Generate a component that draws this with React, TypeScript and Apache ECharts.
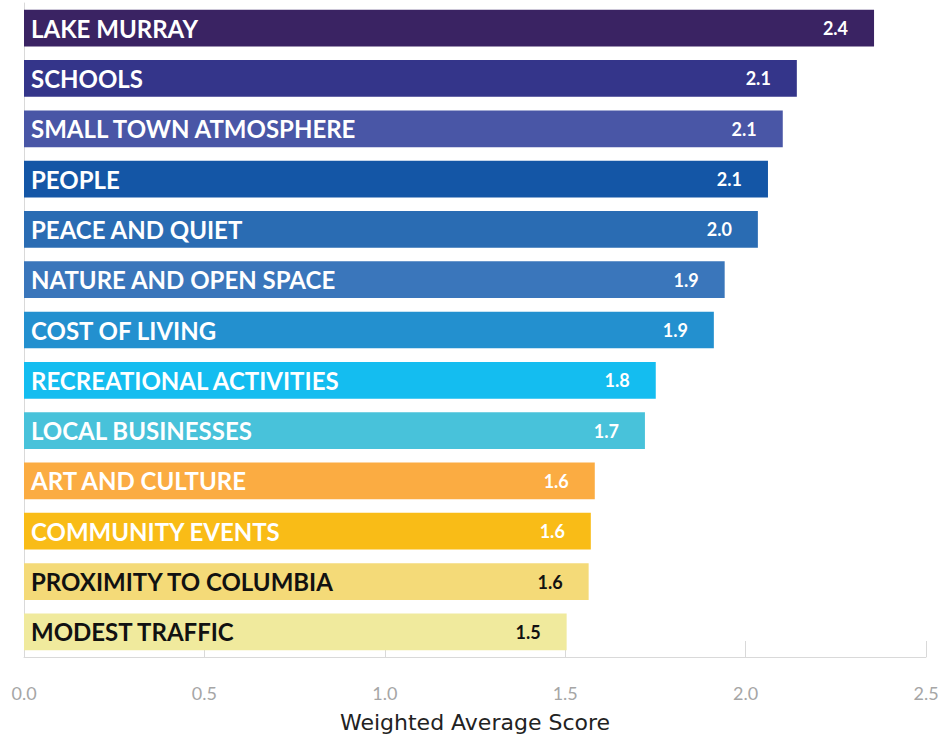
import React, { useEffect, useRef } from "react";
import * as echarts from "echarts";

const categories = [
  "LAKE MURRAY",
  "SCHOOLS",
  "SMALL TOWN ATMOSPHERE",
  "PEOPLE",
  "PEACE AND QUIET",
  "NATURE AND OPEN SPACE",
  "COST OF LIVING",
  "RECREATIONAL ACTIVITIES",
  "LOCAL BUSINESSES",
  "ART AND CULTURE",
  "COMMUNITY EVENTS",
  "PROXIMITY TO COLUMBIA",
  "MODEST TRAFFIC",
];

const scores = [2.356, 2.142, 2.103, 2.062, 2.034, 1.942, 1.912, 1.751, 1.721, 1.582, 1.571, 1.565, 1.504];

const barColors = [
  "#3a2363",
  "#34358a",
  "#4956a6",
  "#1456a6",
  "#2a6cb3",
  "#3a76bb",
  "#2390cf",
  "#14bdf0",
  "#48c2da",
  "#fbac42",
  "#f9bc17",
  "#f4da78",
  "#f0ea9d",
];

const labelColors = [
  "#ffffff", "#ffffff", "#ffffff", "#ffffff", "#ffffff", "#ffffff", "#ffffff",
  "#ffffff", "#ffffff", "#ffffff", "#ffffff", "#111111", "#111111",
];

const xTicks = { min: 0, max: 2.5, interval: 0.5 };
const axisTitle = "Weighted Average Score";

export default function App() {
  const ref = useRef<HTMLDivElement>(null);
  useEffect(() => {
    if (!ref.current) return;
    const chart = echarts.init(ref.current, null, { renderer: "svg" });
    const font = "Lato, 'Noto Sans', sans-serif";
    chart.setOption({
      animation: false,
      grid: { left: 24, right: 19, top: 3, bottom: 79, containLabel: false, outerBoundsMode: "none" },
      xAxis: {
        type: "value",
        min: xTicks.min,
        max: xTicks.max,
        interval: xTicks.interval,
        axisLine: { show: true, lineStyle: { color: "#d9d9d9", width: 1 } },
        axisTick: { show: true, inside: true, length: 16, lineStyle: { color: "#d9d9d9" } },
        splitLine: { show: false },
        axisLabel: {
          color: "#a6a6a6",
          fontSize: 18,
          fontFamily: font,
          margin: 27,
          formatter: (v: number) => v.toFixed(1),
        },
        name: axisTitle,
        nameLocation: "middle",
        nameGap: 54,
        nameTextStyle: { color: "#222222", fontSize: 22, fontFamily: "'DejaVu Sans', sans-serif" },
      },
      yAxis: {
        type: "category",
        data: categories,
        inverse: true,
        axisLine: { show: true, lineStyle: { color: "#d9d9d9", width: 1 } },
        axisTick: { show: false },
        axisLabel: { show: false },
      },
      series: [
        {
          type: "bar",
          barCategoryGap: "27%",
          data: scores.map((v, i) => ({
            value: v,
            itemStyle: { color: barColors[i] },
            label: { color: labelColors[i] },
          })),
          label: {
            show: true,
            position: "insideLeft",
            distance: 7,
            formatter: (p: any) => p.name,
            fontFamily: font,
            fontWeight: "bold",
            fontSize: 24,
          },
        },
        {
          type: "bar",
          barGap: "-100%",
          barCategoryGap: "27%",
          silent: true,
          data: scores.map((v, i) => ({
            value: v,
            itemStyle: { color: "rgba(0,0,0,0)" },
            label: { color: labelColors[i] },
          })),
          label: {
            show: true,
            position: "insideRight",
            distance: 26,
            formatter: (p: any) => (p.value as number).toFixed(1),
            fontFamily: font,
            fontWeight: "bold",
            fontSize: 18,
          },
        },
      ],
    });
    return () => chart.dispose();
  }, []);
  return (
    <div
      ref={ref}
      style={{ position: "fixed", left: 0, top: 0, width: 945, height: 736, background: "#ffffff" }}
    />
  );
}
